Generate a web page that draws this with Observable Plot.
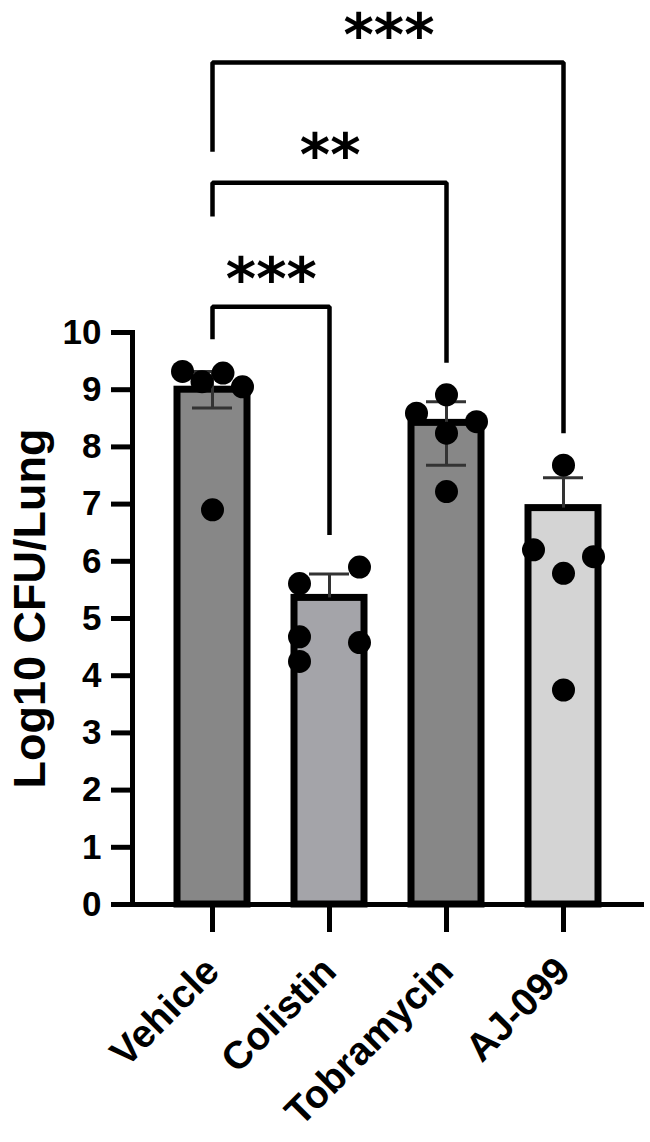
<!DOCTYPE html>
<html><head><meta charset="utf-8">
<script src="https://cdn.jsdelivr.net/npm/d3@7"></script>
<script src="https://cdn.jsdelivr.net/npm/@observablehq/plot@0.6"></script>
<style>body{margin:0;background:#fff}</style>
</head><body><div id="chart"></div>
<script>
// ---- data ----
const categories = ["Vehicle", "Colistin", "Tobramycin", "AJ-099"];
const barValues = [9.0, 5.36, 8.42, 6.93];
const errHigh = [9.32, 5.78, 8.79, 7.46];
const errLow = [8.68, null, 7.68, null];
const pointGroup = ["Vehicle","Vehicle","Vehicle","Vehicle","Vehicle",
  "Colistin","Colistin","Colistin","Colistin","Colistin",
  "Tobramycin","Tobramycin","Tobramycin","Tobramycin","Tobramycin",
  "AJ-099","AJ-099","AJ-099","AJ-099","AJ-099"];
const pointValue = [9.32, 9.14, 9.29, 9.05, 6.90,
  5.61, 5.90, 4.68, 4.58, 4.25,
  8.91, 8.59, 8.44, 8.24, 7.22,
  7.68, 6.20, 6.08, 5.79, 3.75];
const pointLane = [-1, -0.35, 0.35, 1, 0,
  -1, 1, -1, 1, -1,
  0, -1, 1, 0, 0,
  0, -1, 1, 0, 0];
const compFrom = ["Vehicle", "Vehicle", "Vehicle"];
const compTo = ["Colistin", "Tobramycin", "AJ-099"];
const compLabel = ["***", "**", "***"];
const yTicks = [0, 1, 2, 3, 4, 5, 6, 7, 8, 9, 10];
const yLabel = "Log10 CFU/Lung";

// ---- layout / style ----
const W = 650, H = 1142, ML = 132, MR = 6, MT = 332, MB = 238;
const padInner = 0.4, padOuter = 0.3755;
const step = (W - ML - MR) / (categories.length - padInner + 2 * padOuter);
const barColors = ["#878787", "#a4a4a9", "#878787", "#d4d4d4"];
const laneSpacing = 30;
const bracketLevels = [10.45, 12.62, 14.72];
const bracketLeftEnds = [null, 12.03, 13.16];
const armGap = 0.56;

const bars = categories.map((c, i) => ({cat: c, value: barValues[i], hi: errHigh[i], lo: errLow[i] ?? barValues[i], hasLo: errLow[i] != null}));
const points = pointValue.map((v, i) => ({cat: pointGroup[i], value: v, lane: pointLane[i]}));
const lanes = [...new Set(pointLane)];
const maxOf = c => d3.max(points.filter(p => p.cat === c), p => p.value);

const bracketPts = [];
compFrom.forEach((a, k) => {
  const b = compTo[k];
  const lvl = bracketLevels[k];
  const le = bracketLeftEnds[k] ?? (maxOf(a) + armGap);
  const re = maxOf(b) + armGap;
  bracketPts.push({k, cat: a, y: le}, {k, cat: a, y: lvl}, {k, cat: b, y: lvl}, {k, cat: b, y: re});
});

const starMarks = compFrom.map((a, k) => {
  const ia = categories.indexOf(a), ib = categories.indexOf(compTo[k]);
  return Plot.text([k], {
    x: () => a, y: () => bracketLevels[k], text: () => compLabel[k],
    dx: (ib - ia) / 2 * step, dy: -8, fontSize: 58, fontWeight: "bold",
    fontFamily: "DejaVu Sans", lineAnchor: "bottom", textAnchor: "middle"
  });
});

const dotMarks = lanes.map(l => Plot.dot(points.filter(p => p.lane === l), {
  x: "cat", y: "value", r: 11.5, fill: "black", stroke: "none", dx: l * laneSpacing
}));

const chart = Plot.plot({
  width: W, height: H,
  marginLeft: ML, marginRight: MR, marginTop: MT, marginBottom: MB,
  style: {fontFamily: "'Liberation Sans', Arial, sans-serif", fontWeight: "bold", background: "white"},
  x: {domain: categories, paddingInner: padInner, paddingOuter: padOuter},
  y: {domain: [0, 10]},
  color: {domain: categories, range: barColors},
  marks: [
    Plot.barY(bars, {x: "cat", y: "value", fill: "cat", stroke: "black", strokeWidth: 7}),
    Plot.ruleX(bars, {x: "cat", y1: "lo", y2: "hi", stroke: "#333", strokeWidth: 3}),
    Plot.tickY(bars, {x: "cat", y: "hi", stroke: "#333", strokeWidth: 3, inset: 15}),
    Plot.tickY(bars.filter(d => d.hasLo), {x: "cat", y: "lo", stroke: "#333", strokeWidth: 3, inset: 15}),
    ...dotMarks,
    Plot.line(bracketPts, {x: "cat", y: "y", z: "k", stroke: "black", strokeWidth: 4.5, strokeLinejoin: "miter", strokeLinecap: "butt"}),
    ...starMarks,
    Plot.frame({anchor: "left", strokeWidth: 5}),
    Plot.ruleY([0], {strokeWidth: 5}),
    Plot.axisY({ticks: yTicks, tickSize: 21, tickPadding: 10, strokeWidth: 5, fontSize: 35, tickFormat: d => String(d), label: null}),
    Plot.axisX({tickSize: 28, tickPadding: 32, tickRotate: -45, strokeWidth: 5, fontSize: 39, label: null}),
    Plot.text([yLabel], {frameAnchor: "left", text: d => d, rotate: -90, dx: -102, dy: -10, fontSize: 45, lineAnchor: "middle", textAnchor: "middle"})
  ]
});
document.getElementById("chart").appendChild(chart);
</script>
</body></html>
